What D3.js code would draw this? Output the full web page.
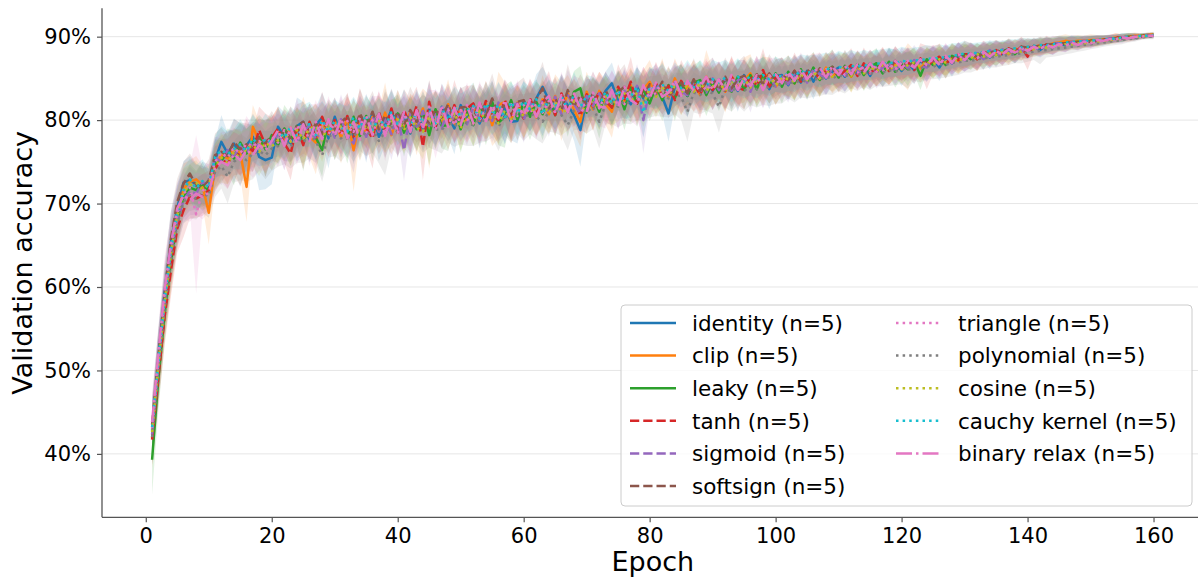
<!DOCTYPE html>
<html><head><meta charset="utf-8">
<script src="https://cdn.jsdelivr.net/npm/d3@7"></script>
<style>body{margin:0;background:#fff} svg{display:block;font-family:"DejaVu Sans",sans-serif}</style>
</head><body><svg id="c" width="1198" height="583"></svg>
<script>
const epochs = d3.range(1, 161);
const seriesNames = ["identity (n=5)","clip (n=5)","leaky (n=5)","tanh (n=5)","sigmoid (n=5)","softsign (n=5)","triangle (n=5)","polynomial (n=5)","cosine (n=5)","cauchy kernel (n=5)","binary relax (n=5)"];
const xTicks = [0,20,40,60,80,100,120,140,160];
const yTicks = [40,50,60,70,80,90];

const meanIdentity = [
42.8,51.5,59.5,65.5,69.5,72.5,72.8,72.3,71.8,72.0,
75.2,77.4,76.0,77.2,75.8,77.0,78.0,75.6,75.2,75.5,
79.2,78.0,77.2,79.3,79.8,77.6,79.4,80.3,77.8,80.4,
78.2,80.0,77.8,80.4,78.2,80.9,78.0,79.4,81.2,78.7,
80.6,78.4,81.2,78.9,81.3,79.1,81.6,80.5,79.0,81.8,
80.2,81.9,79.6,81.4,82.0,79.9,81.6,79.8,79.9,82.3,
80.9,82.6,84.0,82.4,81.0,82.8,81.8,80.6,78.8,82.5,
82.9,81.6,83.5,84.4,82.3,83.2,81.9,84.0,82.6,83.8,
84.2,82.8,80.8,84.0,84.4,82.9,84.7,83.4,84.6,83.5,
84.9,83.6,85.0,83.5,85.4,83.9,85.2,85.3,83.7,85.3,
85.4,84.2,85.6,84.5,85.9,84.6,86.0,85.0,85.8,86.3,
85.2,86.4,85.5,86.6,85.3,86.8,85.7,86.7,86.9,85.9,
86.8,86.0,87.1,86.4,87.3,86.3,87.5,86.8,87.8,87.2,
87.9,87.3,88.1,87.5,88.3,87.9,88.4,88.0,88.6,88.3,
88.8,88.4,89.0,88.7,89.1,89.0,89.3,89.1,89.4,89.4,
89.5,89.5,89.7,89.8,89.8,90.0,90.0,90.0,90.2,90.2];
const meanClip = [
41.9,50.2,57.6,63.5,68.2,71.8,72.6,72.9,72.2,68.9,
74.6,75.8,75.4,76.6,76.1,72.0,79.2,77.4,76.8,77.9,
78.6,77.4,79.1,77.6,79.4,78.0,77.3,79.8,78.3,79.9,
77.9,80.3,76.4,80.1,78.5,80.4,78.6,80.9,78.2,80.6,
78.8,81.0,79.1,81.4,78.6,81.2,79.5,81.9,79.6,81.4,
79.7,81.6,79.9,82.0,79.4,81.8,82.2,80.0,82.1,80.6,
82.1,80.3,82.5,80.7,82.9,81.0,83.2,81.2,79.8,83.4,
81.3,83.5,81.9,81.0,83.8,82.3,84.2,82.0,83.7,84.6,
83.0,84.4,82.7,85.0,83.1,84.0,84.6,83.0,85.2,83.8,
84.7,83.4,85.3,83.9,84.8,85.6,83.8,85.2,85.5,84.0,
85.0,85.6,84.4,85.9,84.8,86.0,84.9,86.3,85.2,85.9,
86.3,85.2,86.4,85.6,86.5,85.8,86.7,85.9,86.8,86.2,
86.4,86.9,86.2,87.1,86.7,87.4,86.8,87.6,87.1,87.6,
87.8,87.3,88.0,87.7,88.1,88.3,87.9,88.6,88.3,88.8,
88.7,89.0,88.9,89.2,89.3,89.5,89.4,89.5,89.5,89.6,
89.6,89.7,89.7,89.9,89.9,90.0,90.1,90.1,90.2,90.3];
const meanLeaky = [
39.3,49.0,56.8,63.0,67.9,70.8,71.9,71.6,72.4,71.5,
74.8,75.1,76.3,75.4,77.3,76.0,77.4,78.0,76.5,78.2,
77.0,79.0,77.6,79.3,77.4,79.6,77.9,76.4,80.0,78.1,
79.9,77.8,80.4,78.1,80.5,78.4,80.8,78.3,79.9,80.8,
78.5,80.6,78.9,81.0,78.2,81.3,79.3,79.4,81.6,78.9,
81.3,79.4,81.9,80.0,82.2,79.7,80.4,82.4,80.1,82.0,
80.4,82.2,80.7,82.6,80.6,82.9,80.9,83.4,83.8,80.9,
82.8,81.0,83.2,81.5,83.6,81.3,83.9,82.0,83.7,82.0,
84.0,82.4,84.2,82.6,84.6,82.9,84.5,84.8,83.0,84.6,
83.3,85.0,83.4,85.2,83.6,85.4,83.7,85.5,84.0,85.6,
84.0,85.8,84.4,86.1,84.6,86.3,84.8,85.9,86.4,85.1,
86.5,85.3,86.7,85.4,86.4,86.8,85.6,87.0,85.8,86.7,
86.1,87.1,85.3,87.3,86.6,87.5,86.6,87.7,87.3,87.9,
87.3,88.0,87.5,88.2,87.8,88.3,88.5,87.9,88.7,88.6,
88.7,88.8,89.0,89.0,89.1,89.2,89.3,89.4,89.3,89.5,
89.5,89.6,89.6,89.8,89.9,90.0,89.9,90.1,90.1,90.2];
const meanTanh = [
41.7,49.2,56.5,62.0,67.0,69.2,70.8,70.6,71.0,71.6,
74.1,75.3,74.8,76.0,75.8,77.0,76.3,78.8,77.0,77.9,
79.0,77.2,76.0,79.2,77.0,79.8,77.9,80.4,78.4,80.0,
78.2,80.5,78.0,80.7,79.0,77.8,81.0,78.7,81.4,78.5,
81.2,79.3,81.7,76.8,82.2,79.2,81.5,79.6,81.8,79.9,
81.4,82.0,79.8,82.3,80.6,80.0,82.4,80.6,82.0,80.2,
82.6,80.8,82.2,82.9,80.6,83.2,81.2,82.6,80.5,83.1,
81.6,83.5,82.3,81.5,84.0,82.5,84.6,82.0,83.9,82.8,
84.4,82.9,84.1,82.4,84.7,83.4,84.4,83.0,85.0,83.6,
84.8,83.5,85.2,83.9,83.6,85.3,84.1,86.0,84.0,85.1,
85.4,84.4,85.9,84.6,85.7,86.0,84.9,85.9,86.3,85.2,
85.9,86.6,85.3,86.8,85.6,86.3,86.9,85.9,87.0,86.4,
87.0,86.0,87.4,86.3,87.2,87.6,86.6,87.7,87.2,87.9,
87.9,87.3,88.3,87.7,88.4,87.8,88.6,88.1,88.8,87.6,
88.9,88.6,89.1,88.8,89.2,89.2,89.3,89.3,89.4,89.5,
89.5,89.7,89.7,89.9,89.9,90.0,90.0,90.1,90.1,90.2];
const meanSigmoid = [
42.3,50.8,58.4,64.2,68.0,70.4,71.5,71.2,72.6,72.1,
75.5,75.0,76.4,75.7,76.9,76.0,77.5,76.8,77.6,77.0,
78.4,77.1,79.0,77.6,78.6,79.4,77.7,78.9,79.8,77.9,
80.1,78.2,77.2,80.0,78.0,80.4,78.6,80.2,78.3,80.6,
76.4,80.8,78.9,81.1,79.3,80.9,79.0,81.5,79.6,81.2,
79.5,81.5,80.0,81.8,79.9,82.1,80.1,81.7,82.0,80.0,
82.1,80.5,82.4,80.8,82.8,80.7,83.0,81.9,80.8,82.9,
81.7,83.2,82.0,83.6,81.8,83.5,82.4,84.1,80.0,83.8,
83.8,84.4,82.7,84.6,83.4,83.0,84.6,83.6,83.3,85.0,
83.6,85.1,83.5,84.8,85.2,83.4,85.3,83.7,85.4,84.0,
85.2,84.3,85.6,85.7,84.5,86.1,85.5,84.9,86.2,85.9,
85.3,86.4,86.0,85.5,86.8,85.7,86.3,86.9,85.8,87.0,
86.2,87.2,86.5,86.3,87.4,86.7,87.6,86.8,87.8,87.3,
87.6,88.0,87.3,88.4,87.6,88.5,88.0,88.6,88.2,88.8,
88.7,89.0,88.8,89.2,89.2,89.0,89.4,89.4,89.5,89.4,
89.6,89.6,89.8,89.7,89.9,90.0,89.9,90.1,90.1,90.1];
const meanSoftsign = [
43.5,51.6,59.2,65.8,70.2,72.4,73.6,72.1,71.9,72.8,
75.8,76.2,75.7,77.4,76.5,77.1,76.6,77.9,77.3,78.1,
77.4,79.0,77.8,79.3,79.8,78.1,79.6,78.3,80.0,78.8,
79.7,80.5,78.4,80.8,79.2,81.0,78.9,80.6,79.4,81.0,
79.4,81.2,79.8,80.6,79.6,81.3,80.3,81.9,79.9,81.5,
81.6,80.2,82.1,80.5,82.6,80.7,81.9,80.4,82.2,82.4,
81.0,82.5,83.8,81.4,82.6,81.2,83.6,81.6,83.0,81.8,
83.2,81.9,83.6,82.0,83.4,84.0,82.4,83.9,82.8,84.3,
83.1,84.6,82.8,84.0,84.5,83.2,84.9,83.5,84.6,85.1,
83.6,85.2,83.8,85.0,85.3,84.0,85.5,84.3,85.6,84.6,
85.5,84.8,85.9,84.9,86.1,85.1,86.2,85.4,86.4,85.6,
86.4,85.6,86.6,85.8,86.8,85.9,86.9,86.1,87.1,86.3,
87.0,86.4,87.3,86.8,87.3,86.9,87.6,87.2,87.9,87.6,
88.0,87.5,88.1,88.0,88.4,88.1,88.6,88.3,88.8,88.7,
88.8,88.9,89.0,89.1,89.2,89.2,89.3,89.3,89.4,89.4,
89.5,89.6,89.7,89.8,89.8,89.9,90.0,90.0,90.1,90.1];
const meanTriangle = [
43.0,51.2,58.8,64.8,68.8,71.2,71.9,68.7,71.5,72.4,
75.0,76.1,75.5,76.7,76.0,77.2,76.8,77.5,76.9,78.0,
77.3,78.8,77.5,79.4,77.8,79.1,78.0,79.7,78.3,79.6,
78.2,79.9,78.6,80.3,78.4,80.0,80.5,78.6,80.3,78.8,
80.6,78.9,80.9,79.2,81.1,79.5,80.7,81.3,79.4,81.2,
79.9,81.5,80.2,79.9,81.8,80.6,80.0,81.9,80.5,81.8,
80.8,82.0,80.9,82.3,81.0,82.5,81.1,82.3,82.6,81.2,
82.8,81.4,83.1,82.0,83.3,81.9,83.6,82.7,81.6,84.0,
83.0,84.1,83.2,84.3,82.9,84.5,83.4,84.6,83.5,84.6,
84.8,83.7,85.0,83.9,85.0,84.0,85.2,84.1,85.4,84.4,
84.8,85.4,84.6,85.6,84.9,85.9,85.0,86.1,85.3,86.2,
85.4,86.3,85.6,86.5,85.6,86.6,85.8,86.8,86.0,86.9,
86.8,86.3,87.2,86.6,87.3,86.7,87.5,86.9,87.7,87.2,
87.7,87.4,88.0,87.6,88.2,87.9,88.4,88.0,88.6,88.4,
88.6,88.6,88.9,88.8,89.0,89.0,89.2,89.1,89.3,89.3,
89.4,89.5,89.6,89.7,89.7,89.8,89.9,90.0,90.1,90.1];
const meanPolynomial = [
42.0,50.0,57.4,63.2,67.5,70.2,71.0,70.6,71.2,70.9,
73.8,74.5,73.2,75.0,75.6,75.2,76.0,76.3,75.8,76.6,
76.9,77.6,76.8,77.9,77.3,78.2,77.5,75.8,78.0,78.4,
77.8,78.6,78.0,78.9,78.1,79.0,77.5,78.6,79.2,78.6,
79.3,78.5,79.6,78.8,79.7,78.9,78.8,79.9,79.2,80.0,
79.6,79.4,80.1,79.8,80.5,79.2,80.6,80.0,80.8,80.3,
80.8,80.4,79.8,81.0,81.3,80.6,79.4,81.2,81.5,80.9,
81.6,79.8,81.9,82.1,81.6,82.3,81.9,82.6,82.2,82.8,
82.9,83.0,82.6,83.2,82.8,81.0,83.3,83.0,83.6,83.2,
81.6,83.8,83.4,84.0,83.5,84.1,83.7,84.2,83.8,84.3,
84.2,84.6,84.4,84.8,84.6,85.0,84.8,85.2,85.0,85.4,
85.2,85.6,85.4,85.7,85.5,85.9,85.7,86.0,85.8,86.1,
86.0,86.3,86.2,86.5,86.4,86.7,86.6,86.9,86.9,87.1,
87.1,87.3,87.4,87.5,87.6,87.7,87.8,87.9,88.0,88.1,
88.2,88.3,88.4,88.5,88.6,88.7,88.8,88.9,89.0,89.1,
89.2,89.3,89.4,89.5,89.6,89.7,89.8,89.9,90.0,90.0];
const meanCosine = [
42.6,50.6,58.1,64.0,68.6,71.4,72.2,72.5,71.7,72.3,
74.4,75.5,74.8,76.2,75.4,76.6,77.0,76.2,77.3,76.8,
77.6,78.4,77.4,78.8,77.7,79.0,79.3,77.6,79.6,78.3,
79.4,78.2,79.9,78.3,79.5,78.6,80.0,78.5,79.8,80.1,
78.8,80.3,79.1,78.6,80.5,79.2,80.6,79.4,80.9,79.0,
80.8,79.6,81.1,80.0,81.3,79.6,81.2,80.1,81.8,80.4,
81.7,80.6,82.0,80.8,82.2,81.0,81.2,82.3,81.5,81.2,
82.7,81.4,83.0,81.9,82.5,83.2,82.2,83.3,82.0,83.7,
82.8,84.0,82.9,84.1,83.2,84.3,83.4,84.4,83.6,84.0,
84.6,83.5,84.8,83.7,85.0,83.9,85.0,84.0,85.3,84.2,
85.1,84.9,84.6,85.5,84.8,85.8,85.0,86.0,85.2,86.1,
86.2,85.3,86.4,85.6,86.5,85.8,86.6,85.9,86.7,86.1,
86.6,86.9,86.4,87.1,86.6,87.3,86.9,87.5,87.0,87.7,
87.4,87.9,87.6,88.0,87.8,88.2,88.0,88.4,88.2,88.5,
88.5,88.8,88.7,88.9,89.0,89.1,89.1,89.2,89.2,89.4,
89.4,89.5,89.6,89.7,89.8,89.9,90.0,90.0,90.1,90.1];
const meanCauchy = [
43.2,51.0,58.6,64.6,69.0,71.6,72.9,71.8,72.7,71.9,
75.6,76.4,75.9,76.5,77.1,76.3,77.8,77.0,77.7,77.3,
78.6,77.9,79.2,78.0,79.3,79.5,78.2,80.0,78.6,79.9,
79.2,78.6,80.4,79.0,80.6,78.8,80.3,79.2,80.9,79.4,
80.8,79.3,81.0,79.7,81.2,79.6,81.4,80.0,81.6,80.4,
81.1,81.7,80.2,82.0,80.6,81.9,80.2,82.2,80.8,82.3,
81.3,82.5,80.7,82.6,81.5,82.9,81.2,83.1,81.6,82.9,
82.8,81.8,83.4,82.0,83.6,82.3,82.8,84.0,80.9,84.0,
83.6,84.3,83.5,84.5,83.8,84.7,83.9,84.8,84.2,84.9,
84.5,85.1,84.4,85.2,84.6,85.3,84.7,85.4,84.9,85.5,
85.2,85.6,85.3,85.9,85.6,86.0,85.9,86.2,86.0,86.4,
86.2,86.5,86.4,86.6,86.5,86.8,86.7,86.9,86.8,87.1,
87.0,87.2,87.1,87.4,87.3,87.5,87.5,87.7,87.8,88.0,
87.9,88.1,88.1,88.3,88.3,88.4,88.5,88.6,88.7,88.8,
88.9,89.0,89.0,89.1,89.2,89.3,89.4,89.4,89.5,89.5,
89.6,89.7,89.7,89.8,89.9,90.0,90.0,90.1,90.1,90.2];
const meanBinary = [
43.8,52.0,59.8,65.2,69.4,71.0,70.4,71.2,70.8,71.3,
74.2,75.0,74.6,75.9,75.2,76.4,75.8,77.0,76.4,77.5,
78.8,76.9,79.1,77.3,79.5,77.5,79.8,77.7,80.1,78.1,
80.2,77.8,79.8,77.7,80.5,78.2,80.8,78.1,80.6,78.5,
81.0,78.6,81.2,79.0,81.6,78.8,81.8,79.2,81.5,79.4,
81.8,79.6,82.1,79.9,81.6,80.2,82.4,79.8,81.9,80.6,
82.4,80.4,82.1,82.9,80.8,83.0,80.9,83.2,81.3,80.9,
83.3,81.6,81.5,83.6,81.6,84.0,82.4,81.9,84.2,82.6,
84.5,82.8,83.3,84.8,83.0,84.7,83.5,84.0,85.2,83.6,
84.9,83.4,85.4,83.6,85.1,84.1,85.4,83.6,85.2,85.5,
84.4,85.8,84.7,86.1,84.9,85.8,86.3,85.1,86.5,85.4,
86.5,85.5,86.7,85.7,86.8,85.8,87.0,86.0,87.1,86.2,
87.1,86.3,87.3,86.6,87.5,86.6,87.7,86.9,87.9,87.2,
88.0,87.4,88.2,87.6,88.3,87.9,88.5,88.1,88.7,88.3,
88.8,88.5,89.0,88.7,89.1,88.9,89.3,89.0,89.4,89.2,
89.6,89.5,89.7,89.7,89.9,89.8,90.0,90.0,90.1,90.1];

const stdIdentity = [
3.2,3.4,3.0,3.6,2.8,2.6,2.9,2.4,2.7,2.2,
2.4,3.2,2.5,3.0,3.8,2.3,2.8,4.0,3.5,3.2,
2.5,2.9,2.2,3.4,2.4,2.7,2.1,3.0,3.6,2.3,
2.8,2.2,3.1,2.5,3.3,2.1,2.9,2.4,2.6,3.2,
2.3,3.0,2.2,2.7,3.4,2.1,2.8,2.5,3.1,2.2,
2.6,2.3,3.0,2.1,2.8,2.4,3.2,2.2,2.7,2.5,
2.2,2.9,2.4,2.6,2.1,2.8,2.3,3.1,4.4,2.4,
2.1,2.7,2.3,2.5,2.2,2.9,2.1,2.4,2.6,2.2,
2.5,2.1,3.4,2.3,2.2,2.6,2.0,2.4,2.1,2.3,
2.0,2.4,2.1,2.5,1.9,2.3,2.0,2.2,2.4,1.9,
2.1,1.8,2.2,2.0,1.9,2.1,1.8,2.0,1.7,1.9,
1.8,2.0,1.7,1.9,1.6,1.8,1.7,1.9,1.6,1.8,
1.6,1.7,1.5,1.8,1.5,1.6,1.4,1.6,1.5,1.4,
1.4,1.3,1.2,1.4,1.2,1.3,1.1,1.2,1.1,1.0,
1.0,0.9,1.0,0.9,0.8,0.8,0.8,0.7,0.7,0.7,
0.6,0.6,0.5,0.5,0.5,0.4,0.4,0.3,0.3,0.3];
const stdClip = [
3.6,4.0,3.8,4.2,3.5,3.0,2.6,2.8,2.4,3.8,
2.6,2.4,3.1,2.3,2.8,4.2,2.6,2.5,3.2,2.4,
3.0,2.3,2.6,2.2,3.4,2.5,3.8,2.3,2.7,2.4,
3.1,2.5,5.0,2.4,2.9,2.2,2.7,3.6,2.3,3.0,
2.6,2.2,3.3,2.4,4.4,2.3,2.8,3.0,2.2,2.6,
2.4,2.9,2.2,2.7,2.5,4.0,2.3,2.6,2.1,2.8,
2.5,2.2,2.9,2.3,2.6,3.5,2.2,2.7,3.0,2.4,
2.6,2.3,2.5,3.1,2.2,2.8,2.1,2.5,2.3,2.6,
2.2,3.0,2.1,2.4,2.5,2.1,2.6,2.2,3.2,2.3,
2.1,2.5,2.2,2.0,2.7,2.3,2.1,2.4,2.0,2.2,
1.9,2.2,2.0,1.8,2.1,1.9,2.2,1.8,2.0,1.9,
1.7,1.9,1.8,2.0,1.6,1.8,1.9,1.7,1.6,1.8,
2.8,1.5,1.7,1.6,1.5,1.8,1.4,1.6,1.5,1.4,
1.3,1.4,1.2,1.3,1.2,1.1,1.3,1.1,1.1,1.0,
0.9,1.0,0.9,0.8,0.8,0.8,0.7,0.7,0.6,0.7,
0.6,0.5,0.5,0.5,0.4,0.4,0.4,0.3,0.3,0.3];
const stdLeaky = [
4.2,3.8,3.4,3.0,2.7,2.5,2.8,2.3,2.6,2.1,
2.9,2.5,2.7,3.2,2.4,3.0,2.3,2.6,3.3,2.5,
2.3,2.8,3.1,2.2,3.5,2.4,2.6,3.2,2.3,2.9,
2.5,3.0,2.2,2.6,2.4,3.3,2.2,2.8,2.5,2.3,
2.9,2.3,2.6,2.4,3.6,2.2,2.7,3.1,2.3,2.8,
2.3,2.6,2.2,3.0,2.4,2.7,3.7,2.3,2.5,2.2,
2.8,2.4,3.1,2.2,2.6,2.3,2.9,2.5,2.7,2.2,
2.4,3.2,2.2,2.6,2.3,2.5,2.2,2.8,2.4,2.1,
2.3,2.5,2.1,2.7,2.2,2.4,2.1,2.3,2.5,2.0,
2.2,2.0,2.4,2.1,2.3,1.9,2.2,2.5,2.0,2.1,
2.0,1.9,2.1,1.8,2.2,1.9,2.0,1.8,2.1,1.7,
1.9,1.8,1.6,1.9,1.7,1.8,1.6,1.7,1.9,1.6,
2.0,1.6,1.7,1.5,1.6,1.4,1.6,1.5,1.4,1.5,
1.3,1.2,1.4,1.2,1.3,1.1,1.2,1.1,1.0,1.0,
1.0,0.9,0.9,0.8,0.8,0.8,0.7,0.7,0.6,0.6,
0.6,0.5,0.5,0.4,0.5,0.4,0.4,0.3,0.3,0.3];
const stdTanh = [
3.0,3.3,3.5,3.1,2.9,3.2,2.6,2.3,2.5,2.4,
2.7,2.4,3.0,2.6,2.3,3.1,2.5,2.8,3.8,2.4,
2.6,2.3,3.2,2.5,2.9,2.2,2.6,3.0,2.4,2.7,
2.3,2.8,2.5,3.1,2.2,3.6,2.4,2.7,2.3,2.9,
2.5,3.2,2.3,4.0,2.6,2.4,2.8,2.2,3.0,2.5,
2.7,2.2,2.9,2.4,2.3,2.8,2.5,3.1,2.2,2.6,
2.4,2.7,2.2,3.0,2.5,2.3,2.6,2.4,2.9,2.2,
2.8,2.3,2.5,2.2,2.7,2.4,3.0,2.2,2.5,2.3,
2.6,2.2,2.4,2.1,2.5,2.3,2.2,2.8,2.1,2.4,
2.2,2.1,2.5,2.0,2.3,2.2,2.1,2.6,2.0,2.2,
2.1,1.9,2.2,2.0,1.8,2.1,1.9,2.0,1.8,1.9,
1.8,2.0,1.7,1.9,1.8,1.6,1.9,1.7,1.8,1.6,
1.7,1.6,1.8,2.6,1.7,1.5,1.6,1.4,1.5,1.6,
1.3,1.4,1.2,1.3,1.2,1.3,1.2,1.1,1.2,1.6,
1.0,0.9,1.0,0.9,0.8,0.8,0.7,0.7,0.7,0.6,
0.6,0.5,0.5,0.5,0.4,0.4,0.4,0.3,0.3,0.3];
const stdSigmoid = [
3.4,3.6,3.2,3.8,3.0,2.7,2.9,2.5,2.4,2.6,
2.5,2.8,2.4,3.1,2.6,2.9,2.3,2.7,2.5,3.0,
2.4,3.1,2.3,2.6,2.8,2.2,2.9,2.5,2.3,2.7,
3.0,2.4,3.5,2.3,2.8,2.5,2.6,2.2,3.1,2.4,
3.8,2.3,2.7,2.5,2.2,2.9,2.4,2.6,2.3,2.8,
2.5,2.3,2.8,2.2,2.6,2.4,3.0,2.3,2.5,2.7,
2.3,2.6,2.4,2.8,2.2,2.5,3.1,2.3,2.6,2.4,
2.5,2.2,2.7,2.3,2.9,2.4,2.2,2.6,4.0,2.3,
2.4,2.2,2.5,2.1,2.3,2.6,2.2,2.4,2.1,2.5,
2.3,2.1,2.2,2.4,2.0,2.5,2.1,2.3,2.0,2.2,
2.0,2.2,1.9,2.1,2.0,1.8,2.1,1.9,1.8,2.0,
1.9,1.7,1.9,1.8,1.6,1.9,1.7,1.8,1.6,1.7,
1.6,1.8,1.5,1.7,1.6,1.5,1.6,1.4,1.5,1.4,
1.4,1.2,1.3,1.2,1.3,1.1,1.2,1.1,1.1,1.0,
0.9,1.0,0.9,0.9,0.8,0.8,0.8,0.7,0.6,0.7,
0.6,0.5,0.5,0.5,0.5,0.4,0.4,0.3,0.3,0.3];
const stdSoftsign = [
3.1,3.4,3.7,3.3,2.8,2.6,2.4,2.7,2.3,2.5,
2.6,2.9,2.4,2.7,3.2,2.5,2.8,2.3,2.6,3.0,
2.5,2.3,2.8,2.6,2.4,3.1,2.3,2.7,2.5,2.9,
2.4,2.7,2.3,3.0,2.6,2.5,2.3,2.8,2.4,2.6,
2.3,2.8,2.5,2.4,2.9,2.2,2.6,2.5,2.7,2.3,
2.6,2.4,2.3,2.8,3.0,2.2,2.5,2.6,2.3,2.7,
2.4,2.3,3.2,2.5,2.6,2.2,3.1,2.4,2.5,2.3,
2.6,2.4,2.2,2.5,2.3,2.7,2.2,2.4,2.5,2.1,
2.3,2.5,2.1,2.4,2.2,2.3,2.5,2.1,2.2,2.4,
2.1,2.3,2.2,2.0,2.4,2.1,2.2,2.0,2.3,2.1,
2.0,2.1,1.9,2.0,1.8,2.1,1.9,1.8,2.0,1.8,
1.8,1.9,1.7,1.8,1.6,1.8,1.7,1.6,1.8,1.6,
1.6,1.7,1.5,1.6,1.5,1.6,1.4,1.5,1.4,1.5,
1.3,1.3,1.2,1.3,1.2,1.2,1.1,1.2,1.1,1.0,
0.9,0.9,0.9,0.8,0.9,0.8,0.7,0.7,0.6,0.6,
0.6,0.5,0.5,0.5,0.4,0.4,0.4,0.3,0.3,0.3];
const stdTriangle = [
3.8,3.5,3.1,3.4,3.2,2.9,2.6,9.5,2.8,2.4,
2.8,2.5,3.1,2.4,2.7,3.3,2.5,2.9,2.3,2.6,
2.9,2.4,2.6,3.2,2.3,2.8,3.9,2.5,2.7,2.4,
2.6,3.0,2.3,2.7,2.5,2.9,2.4,3.5,2.3,2.6,
2.4,3.2,2.3,2.6,2.5,4.1,2.4,2.7,2.2,2.8,
2.5,2.3,2.7,2.4,2.9,2.3,2.6,2.4,3.0,2.2,
2.6,2.4,2.8,2.3,2.5,2.7,2.2,3.0,2.4,2.6,
2.3,2.5,2.8,2.2,2.6,2.4,2.3,2.7,3.6,2.3,
2.4,2.2,2.6,2.3,2.1,2.5,2.3,2.2,2.4,2.1,
2.2,2.4,2.1,2.3,2.2,2.0,2.4,2.1,2.2,2.0,
2.1,1.9,2.0,2.2,1.9,2.0,1.8,2.1,1.9,1.8,
1.9,1.8,2.0,1.7,1.8,1.6,1.9,1.7,1.6,1.8,
1.7,1.5,1.6,1.8,1.5,1.6,1.5,1.4,1.6,1.4,
1.4,1.3,1.2,1.3,1.2,1.2,1.1,1.2,1.1,1.0,
1.0,0.9,0.9,0.9,0.8,0.8,0.7,0.7,0.6,0.7,
0.6,0.5,0.5,0.5,0.5,0.4,0.4,0.3,0.3,0.3];
const stdPolynomial = [
3.3,3.6,3.4,3.0,2.9,2.6,2.8,2.5,2.3,2.6,
3.0,2.7,3.2,2.5,2.8,2.6,3.1,2.4,2.9,2.7,
2.5,2.9,2.6,3.0,2.4,2.8,2.6,3.2,2.5,2.7,
2.8,2.5,3.0,2.6,2.4,2.9,2.7,5.2,2.5,2.8,
2.6,2.9,2.4,2.7,3.0,2.5,2.8,2.6,2.4,2.9,
2.7,2.5,2.8,2.4,2.6,2.9,2.5,2.7,2.4,2.8,
2.5,2.7,2.6,2.4,2.8,2.5,3.0,2.4,2.6,2.5,
2.7,3.2,2.4,2.6,2.5,2.7,2.4,2.6,2.3,2.5,
2.4,2.6,2.3,2.5,2.8,3.6,2.4,2.3,2.5,2.4,
3.1,2.3,2.4,2.2,2.5,2.3,2.2,2.4,2.1,2.3,
2.2,2.0,2.3,2.1,2.0,2.2,1.9,2.1,2.0,1.9,
2.0,1.8,1.9,1.7,1.9,1.8,1.7,1.9,1.6,1.8,
2.2,1.6,1.7,1.6,1.5,1.7,1.5,1.6,1.5,1.4,
1.4,1.3,1.3,1.2,1.3,1.2,1.2,1.1,1.2,1.1,
1.0,1.6,0.9,0.9,0.9,0.8,0.8,0.7,0.7,0.6,
0.6,0.5,0.5,0.5,0.5,0.4,0.4,0.3,0.3,0.3];
const stdCosine = [
3.5,3.2,3.6,3.3,3.0,2.8,2.5,2.7,2.4,2.3,
2.7,3.0,2.5,2.8,3.2,2.4,2.6,2.9,2.4,2.8,
2.6,2.4,2.9,2.5,3.1,2.3,2.7,2.6,2.4,3.0,
2.5,2.8,2.4,3.2,2.3,2.6,2.8,2.4,2.7,2.5,
2.8,2.4,2.6,3.3,2.3,2.7,2.5,2.9,2.4,2.6,
2.4,2.7,2.5,2.3,2.8,2.6,2.4,2.9,2.3,2.5,
2.6,2.4,2.7,2.5,2.3,2.8,2.4,2.6,2.5,2.9,
2.4,2.6,2.3,2.5,2.7,2.3,2.5,2.4,2.8,2.2,
2.5,2.3,2.4,2.2,2.6,2.3,2.4,2.2,2.5,2.3,
2.2,2.4,2.1,2.3,2.2,2.4,2.1,2.2,2.0,2.3,
2.1,2.0,2.2,1.9,2.1,2.0,1.9,2.1,1.8,2.0,
1.8,2.0,1.7,1.9,1.8,1.7,1.8,1.6,1.8,1.7,
1.6,1.7,1.6,1.5,1.6,1.5,1.6,1.4,1.5,1.4,
1.3,1.3,1.2,1.3,1.2,1.2,1.1,1.2,1.1,1.0,
0.9,1.0,0.9,0.9,0.8,0.8,0.7,0.7,0.6,0.6,
0.6,0.5,0.5,0.5,0.4,0.5,0.4,0.3,0.3,0.3];
const stdCauchy = [
3.2,3.7,3.3,3.5,3.1,2.7,2.5,2.8,2.6,2.2,
2.6,2.9,2.7,2.4,3.0,2.6,2.8,2.5,3.1,2.4,
2.8,2.6,2.4,2.9,2.5,2.7,3.0,2.3,2.6,2.5,
2.7,3.1,2.4,2.6,2.5,2.8,2.3,2.9,2.6,2.4,
2.9,2.5,2.7,2.4,2.6,3.0,2.3,2.6,2.5,2.8,
2.5,2.8,2.3,2.6,2.4,2.7,3.1,2.4,2.6,2.3,
2.7,2.4,2.6,2.3,2.8,2.5,2.4,2.7,2.3,2.5,
2.4,2.7,2.3,2.6,2.4,2.2,2.5,2.3,3.0,2.4,
2.3,2.5,2.2,2.4,2.3,2.5,2.2,2.4,2.1,2.3,
2.4,2.1,2.3,2.2,2.0,2.3,2.1,2.2,2.0,2.1,
2.0,2.1,1.9,2.0,2.1,1.8,2.0,1.9,1.8,1.9,
1.8,1.9,1.7,1.8,1.7,1.6,1.8,1.7,1.6,1.7,
1.6,1.5,1.7,1.6,1.5,1.6,1.4,1.5,1.4,1.5,
1.3,1.2,1.3,1.2,1.2,1.1,1.2,1.1,1.1,1.0,
0.9,0.9,0.9,0.8,0.9,0.8,0.7,0.7,0.6,0.6,
0.6,0.5,0.5,0.4,0.5,0.4,0.4,0.3,0.3,0.3];
const stdBinary = [
3.6,3.3,3.9,3.4,3.1,2.8,2.6,2.5,2.7,2.3,
2.7,2.5,2.9,2.6,3.1,2.4,2.7,3.0,2.5,2.8,
2.4,2.9,2.5,2.7,2.3,3.0,2.6,2.4,2.8,2.5,
2.6,2.4,2.9,2.5,2.7,2.3,2.8,2.6,2.4,3.0,
2.5,2.7,2.4,2.6,2.8,2.3,2.5,2.9,2.4,2.6,
2.7,2.4,2.6,2.5,2.3,2.8,2.4,2.6,2.9,2.3,
2.5,2.7,2.3,2.6,2.4,2.8,2.5,2.3,2.6,2.4,
2.6,2.3,2.5,2.4,2.7,2.3,2.5,2.6,2.2,2.4,
2.3,2.5,2.2,2.4,2.3,2.1,2.5,2.3,2.2,2.4,
2.2,2.3,2.1,2.4,2.2,2.0,2.3,2.1,2.2,2.0,
2.1,1.9,2.1,2.0,1.9,2.1,1.8,2.0,1.9,1.8,
1.9,1.8,1.7,1.9,1.7,1.8,1.6,1.8,1.7,1.6,
1.7,1.6,1.5,1.6,1.5,1.6,1.5,1.4,1.5,1.4,
1.3,1.2,1.3,1.2,1.2,1.2,1.1,1.2,1.1,1.0,
0.9,0.9,0.9,0.9,0.8,0.8,0.7,0.7,0.6,0.6,
0.6,0.5,0.5,0.5,0.4,0.4,0.4,0.3,0.3,0.3];

const means = [meanIdentity,meanClip,meanLeaky,meanTanh,meanSigmoid,meanSoftsign,meanTriangle,meanPolynomial,meanCosine,meanCauchy,meanBinary];
const stds = [stdIdentity,stdClip,stdLeaky,stdTanh,stdSigmoid,stdSoftsign,stdTriangle,stdPolynomial,stdCosine,stdCauchy,stdBinary];

const colors = ["#1f77b4","#ff7f0e","#2ca02c","#d62728","#9467bd","#8c564b","#e377c2","#7f7f7f","#bcbd22","#17becf","#e377c2"];
const LW = 2.5;
const DASHED = `${3.7*LW},${1.6*LW}`, DOTTED = `${1*LW},${1.65*LW}`, DASHDOT = `${6.4*LW},${1.6*LW},${1*LW},${1.6*LW}`;
const dashes = [null,null,null,DASHED,DASHED,DASHED,DOTTED,DOTTED,DOTTED,DOTTED,DASHDOT];

const svg = d3.select("#c");
const L = 102, R = 1203.6, T = 8.3, B = 517.3;
const x = d3.scaleLinear().domain([-6.95, 167.95]).range([L, R]);
const y = d3.scaleLinear().domain([32.4, 93.4]).range([B, T]);

svg.append("g").selectAll("line").data(yTicks).join("line")
  .attr("x1", L).attr("x2", R).attr("y1", d => y(d)).attr("y2", d => y(d))
  .attr("stroke", "#e6e6e6").attr("stroke-width", 1);

svg.append("defs").append("clipPath").attr("id","clip").append("rect")
  .attr("x", L).attr("y", T).attr("width", R - L).attr("height", B - T);

const plot = svg.append("g").attr("clip-path","url(#clip)");
const area = d3.area().x((d,i) => x(epochs[i])).y0(d => y(d[0]-d[1])).y1(d => y(d[0]+d[1]));
const line = d3.line().x((d,i) => x(epochs[i])).y(d => y(d));

means.forEach((m, k) => {
  const pairs = m.map((v,i) => [v, stds[k][i]]);
  plot.append("path").attr("d", area(pairs)).attr("fill", colors[k]).attr("fill-opacity", 0.14).attr("stroke","none");
});
means.forEach((m, k) => {
  const p = plot.append("path").attr("d", line(m)).attr("fill","none")
    .attr("stroke", colors[k]).attr("stroke-width", LW).attr("stroke-linejoin","round");
  if (dashes[k]) p.attr("stroke-dasharray", dashes[k]);
});

const xAxis = svg.append("g").attr("transform", `translate(0,${B})`)
  .call(d3.axisBottom(x).tickValues(xTicks).tickSize(5).tickPadding(6).tickFormat(d3.format("d")));
const yAxis = svg.append("g").attr("transform", `translate(${L},0)`)
  .call(d3.axisLeft(y).tickValues(yTicks).tickSize(5).tickPadding(6).tickFormat(d => d + "%"));
[xAxis, yAxis].forEach(a => {
  a.select(".domain").remove();
  a.selectAll(".tick line").attr("stroke", "#555").attr("stroke-width", 1.2);
  a.selectAll(".tick text").attr("fill", "#000").style("font-size", "21px").style("font-family", "DejaVu Sans");
});
svg.append("line").attr("x1", L).attr("x2", L).attr("y1", T).attr("y2", B).attr("stroke","#555").attr("stroke-width",1.3);
svg.append("line").attr("x1", L).attr("x2", 1198).attr("y1", B).attr("y2", B).attr("stroke","#555").attr("stroke-width",1.3);

svg.append("text").attr("x", (L + R) / 2).attr("y", 571).attr("text-anchor","middle")
  .style("font-size","27px").text("Epoch");
svg.append("text").attr("transform", `translate(32,${(T + B) / 2}) rotate(-90)`).attr("text-anchor","middle")
  .style("font-size","27px").text("Validation accuracy");

const lg = svg.append("g");
lg.append("rect").attr("x", 621).attr("y", 305).attr("width", 571).attr("height", 201).attr("rx", 4)
  .attr("fill", "#fff").attr("fill-opacity", 0.8).attr("stroke", "#cccccc").attr("stroke-width", 1);
seriesNames.forEach((name, k) => {
  const col = k < 6 ? 0 : 1, row = k < 6 ? k : k - 6;
  const cy = 323 + row * 32.6;
  const hx = col === 0 ? 630 : 896, tx = col === 0 ? 692 : 958;
  const h = lg.append("line").attr("x1", hx).attr("x2", hx + 46).attr("y1", cy).attr("y2", cy)
    .attr("stroke", colors[k]).attr("stroke-width", LW);
  if (dashes[k]) h.attr("stroke-dasharray", dashes[k]);
  lg.append("text").attr("x", tx).attr("y", cy + 7.8).style("font-size", "21.5px").text(name);
});
</script></body></html>
